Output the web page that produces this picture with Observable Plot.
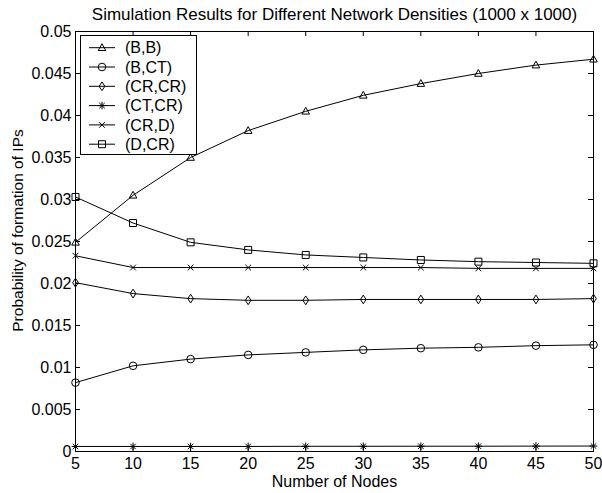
<!DOCTYPE html>
<html><head><meta charset="utf-8">
<script src="https://cdn.jsdelivr.net/npm/d3@7"></script>
<script src="https://cdn.jsdelivr.net/npm/@observablehq/plot@0.6"></script>
<style>body{margin:0;background:#fff}</style>
</head><body><div id="chart"></div>
<script>
const titleText = "Simulation Results for Different Network Densities (1000 x 1000)";
const xLabel = "Number of Nodes";
const yLabel = "Probability of formation of IPs";
const nodes = [5, 10, 15, 20, 25, 30, 35, 40, 45, 50];
const seriesNames = ["(B,B)", "(B,CT)", "(CR,CR)", "(CT,CR)", "(CR,D)", "(D,CR)"];
const bb   = [0.0249, 0.0305, 0.0350, 0.0382, 0.0405, 0.0424, 0.0438, 0.0450, 0.0460, 0.0467];
const bct  = [0.0082, 0.0102, 0.0110, 0.0115, 0.0118, 0.0121, 0.0123, 0.0124, 0.0126, 0.0127];
const crcr = [0.0201, 0.0188, 0.0182, 0.0180, 0.0180, 0.0181, 0.0181, 0.0181, 0.0181, 0.0182];
const ctcr = [0.0006, 0.0006, 0.0006, 0.0006, 0.00062, 0.00062, 0.00063, 0.00063, 0.00064, 0.00065];
const crd  = [0.0233, 0.0219, 0.0219, 0.0219, 0.0219, 0.0219, 0.0219, 0.0218, 0.0218, 0.0218];
const dcr  = [0.0303, 0.0272, 0.0249, 0.0240, 0.0234, 0.0231, 0.0228, 0.0226, 0.0225, 0.0224];
const xTicks = [5, 10, 15, 20, 25, 30, 35, 40, 45, 50];
const yTicks = [0, 0.005, 0.01, 0.015, 0.02, 0.025, 0.03, 0.035, 0.04, 0.045, 0.05];
const yTickLabels = ["0", "0.005", "0.01", "0.015", "0.02", "0.025", "0.03", "0.035", "0.04", "0.045", "0.05"];

const seriesValues = [bb, bct, crcr, ctcr, crd, dcr];
const data = [];
seriesNames.forEach((s, k) => nodes.forEach((n, i) => data.push({series: s, n, v: seriesValues[k][i]})));
const yLabelMap = new Map(yTicks.map((t, i) => [t, yTickLabels[i]]));

// MATLAB-like marker shapes
const sym = {
  triangle: {draw(c, s) { const r = Math.sqrt(s / Math.PI) * 1.05; c.moveTo(0, -r); c.lineTo(r * 0.95, r * 0.7); c.lineTo(-r * 0.95, r * 0.7); c.closePath(); }},
  circle: {draw(c, s) { const r = Math.sqrt(s / Math.PI); c.moveTo(r, 0); c.arc(0, 0, r, 0, 2 * Math.PI); }},
  diamond: {draw(c, s) { const r = Math.sqrt(s / Math.PI); c.moveTo(0, -r * 1.15); c.lineTo(r * 0.75, 0); c.lineTo(0, r * 1.15); c.lineTo(-r * 0.75, 0); c.closePath(); }},
  star: {draw(c, s) { const r = Math.sqrt(s / Math.PI); const d = r * 0.72;
    c.moveTo(-r, 0); c.lineTo(r, 0); c.moveTo(0, -r); c.lineTo(0, r);
    c.moveTo(-d, -d); c.lineTo(d, d); c.moveTo(-d, d); c.lineTo(d, -d); }},
  times: {draw(c, s) { const d = Math.sqrt(s / Math.PI) * 0.75;
    c.moveTo(-d, -d); c.lineTo(d, d); c.moveTo(-d, d); c.lineTo(d, -d); }},
  square: {draw(c, s) { const r = Math.sqrt(s / Math.PI) * 0.92; c.rect(-r, -r, 2 * r, 2 * r); }}
};
const seriesSymbols = [sym.triangle, sym.circle, sym.diamond, sym.star, sym.times, sym.square];
const R = 3.8;

const W = 602, H = 493, mL = 75, mR = 9, mT = 31, mB = 42;
const pw = W - mL - mR, ph = H - mT - mB;
const font = "'Liberation Sans', Arial, Helvetica, sans-serif";

const plot = Plot.plot({
  width: W, height: H,
  marginLeft: mL, marginRight: mR, marginTop: mT, marginBottom: mB,
  x: {domain: [5, 50]},
  y: {domain: [0, 0.05]},
  style: {fontFamily: font, fontSize: "16px", background: "white", color: "black", overflow: "visible"},
  marks: [
    Plot.tickY(yTicks, {y: d => d, insetRight: pw - 5, stroke: "black"}),
    Plot.tickY(yTicks, {y: d => d, insetLeft: pw - 5, stroke: "black"}),
    Plot.tickX(xTicks, {x: d => d, insetTop: ph - 5, stroke: "black"}),
    Plot.tickX(xTicks, {x: d => d, insetBottom: ph - 5, stroke: "black"}),
    Plot.axisY(yTicks, {tickSize: 0, tickPadding: 4, tickFormat: d => yLabelMap.get(d), label: null, fontSize: 16}),
    Plot.axisX(xTicks, {tickSize: 0, tickPadding: 6, tickFormat: d => String(d), label: null, fontSize: 16}),
    Plot.line(data, {x: "n", y: "v", z: "series", stroke: "black", strokeWidth: 1}),
    ...seriesNames.map((s, k) => Plot.dot(data.filter(d => d.series === s), {
      x: "n", y: "v", r: R, symbol: seriesSymbols[k], stroke: "black", fill: "none", strokeWidth: 1
    })),
    Plot.frame({stroke: "black", strokeWidth: 1}),
    Plot.text([titleText], {frameAnchor: "top", lineAnchor: "middle", dy: -17, fontSize: 17}),
    Plot.text([xLabel], {frameAnchor: "bottom", lineAnchor: "middle", dy: 30, fontSize: 16}),
    Plot.text([yLabel], {frameAnchor: "left", textAnchor: "middle", lineAnchor: "middle", dx: -57, dy: -11, rotate: -90, fontSize: 15.5})
  ]
});
document.getElementById("chart").appendChild(plot);

// legend box
const svg = d3.select(plot);
const lg = svg.append("g").attr("font-family", font).attr("font-size", 16).attr("text-anchor", "start");
lg.append("rect").attr("x", 80.5).attr("y", 35.5).attr("width", 116).attr("height", 119)
  .attr("fill", "white").attr("stroke", "black");
seriesNames.forEach((s, i) => {
  const cy = 47.7 + i * 19.3;
  lg.append("line").attr("x1", 89).attr("x2", 115).attr("y1", cy).attr("y2", cy).attr("stroke", "black");
  lg.append("path").attr("transform", `translate(102,${cy})`)
    .attr("d", d3.symbol(seriesSymbols[i], Math.PI * R * R)())
    .attr("fill", "none").attr("stroke", "black");
  lg.append("text").attr("x", 125).attr("y", cy).attr("dy", "0.35em").attr("text-anchor", "start").text(s);
});
</script>
</body></html>
